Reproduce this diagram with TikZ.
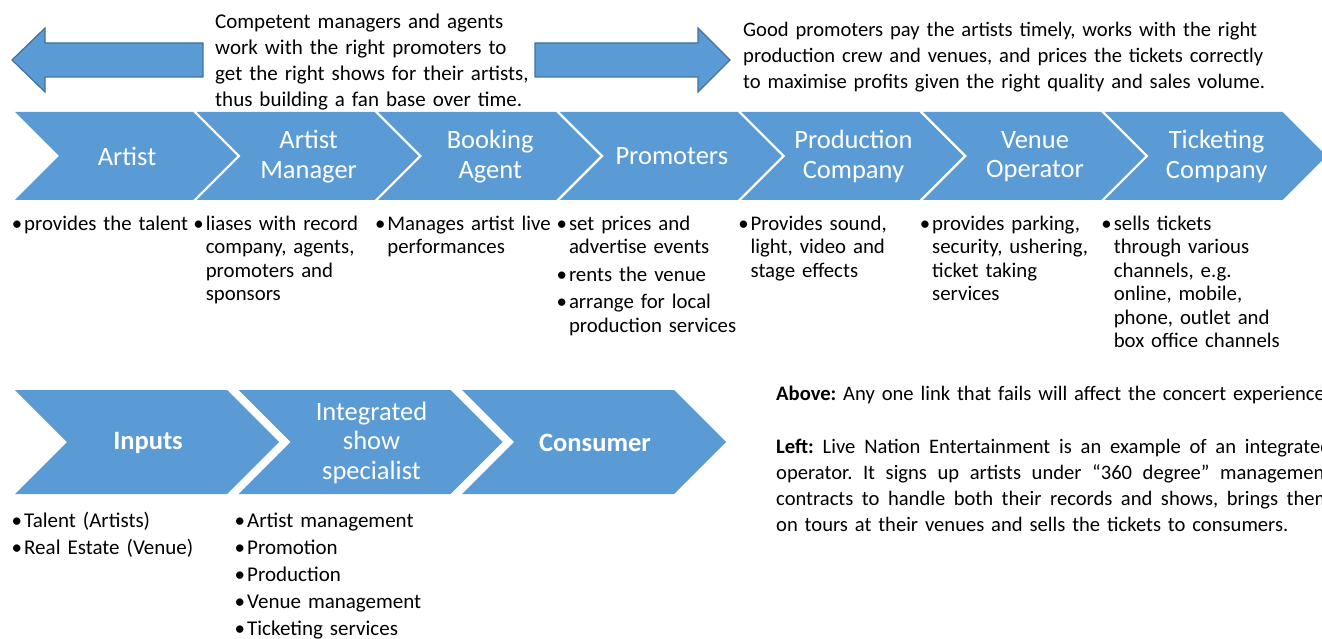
\documentclass[tikz,border=0pt]{standalone}
\usepackage{fontspec}
\setmainfont{Carlito}
\usepackage{tikz}
\definecolor{chevc}{HTML}{5B9BD5}
\definecolor{linec}{HTML}{41719C}
\newcommand\notefont{\fontsize{20.8}{23.5}\selectfont}
\newcommand\listfont{\fontsize{21}{27.2}\selectfont}
\newcommand\headfont{\fontsize{21}{26}\selectfont}
\newcommand\capfont{\fontsize{20.6}{26}\selectfont}
\newcommand\labfont{\fontsize{26.5}{29.5}\selectfont}
\newcommand\bul{\leavevmode\llap{•\kern2pt}}
\newcommand\jline[1]{\leavevmode\hbox to 555pt{\spaceskip=.226em plus 1em\relax#1}}
\frenchspacing
\tikzset{
  blk/.style={fill=chevc,draw=linec,line width=1.2pt},
  lab/.style={text=white,align=center,font=\labfont,inner sep=0pt},
  note/.style={anchor=base west,align=left,inner sep=0pt,font=\notefont,text width=190pt},
  para/.style={anchor=base west,align=left,inner sep=0pt,font=\capfont,text width=#1},
  para/.default=570pt
}

\begin{document}
\begin{tikzpicture}[x=1pt,y=-1pt]
\useasboundingbox (0,0) rectangle (1322,639);
% the two double-ended hints above the chain
\draw[blk] (12,60) -- (45,28) -- (45,43) -- (203,43) -- (203,77) -- (45,77) -- (45,92) -- cycle;
\draw[blk] (730,60) -- (698,28) -- (698,43) -- (535,43) -- (535,77) -- (698,77) -- (698,92) -- cycle;
\node[para=330pt,font=\headfont] (mgrnote) at (215,28.5) {Competent managers and agents\\work with the right promoters to\\get the right shows for their artists,\\thus building a fan base over time.};
\node[para] (promnote) at (743,36.5) {Good promoters pay the artists timely, works with the right\\production crew and venues, and prices the tickets correctly\\to maximise profits given the right quality and sales volume.};
% value chain
\foreach \i/\nm/\lab in {0/artist/Artist,1/manager/{Artist\\Manager},2/agent/{Booking\\Agent},3/promoter/Promoters,4/production/{Production\\Company},5/venue/{Venue\\Operator},6/ticketing/{Ticketing\\Company}}{
  \pgfmathsetmacro\xa{15+181.6*\i}
  \fill[chevc] (\xa,112) -- ++(178,0) -- ++(44,44) -- ++(-44,44) -- ++(-178,0) -- ++(44,-44) -- cycle;
  \node[lab] (\nm) at (\xa+112,156.5) {\lab};
}
\node[note] (n-artist) at (24,230) {\bul provides the talent};
\node[note] (n-manager) at (205.6,230) {\bul liases with record\\company, agents,\\promoters and\\sponsors};
\node[note] (n-agent) at (387.2,230) {\bul Manages artist live\\performances};
\node[note] (n-promoter) at (568.8,230) {\bul set prices and\\advertise events\\[4pt]\bul rents the venue\\[4pt]\bul arrange for local\\production services};
\node[note] (n-production) at (750.4,230) {\bul Provides sound,\\light, video and\\stage effects};
\node[note] (n-venue) at (932,230) {\bul provides parking,\\security, ushering,\\ticket taking\\services};
\node[note] (n-ticketing) at (1113.6,230) {\bul sells tickets\\through various\\channels, e.g.\\online, mobile,\\phone, outlet and\\box office channels};
% integrated operator
\foreach \i/\nm/\lab in {0/inputs/\textbf{Inputs},1/integrated/{Integrated\\show\\specialist},2/consumer/\textbf{Consumer}}{
  \pgfmathsetmacro\xa{15+223.5*\i}
  \fill[chevc] (\xa,390) -- ++(212,0) -- ++(52,52) -- ++(-52,52) -- ++(-212,0) -- ++(52,-52) -- cycle;
  \node[lab] (\nm) at (\xa+133,442.5) {\lab};
}
\node[note,font=\listfont] (l-inputs) at (24,527) {\bul Talent (Artists)\\\bul Real Estate (Venue)};
\node[note,font=\listfont] (l-integrated) at (247,527) {\bul Artist management\\\bul Promotion\\\bul Production\\\bul Venue management\\\bul Ticketing services};
\node[para] (capabove) at (776,400.5) {\textbf{Above:} Any one link that fails will affect the concert experience};
\node[para] (capleft) at (776,453) {\jline{\textbf{Left:} Live Nation Entertainment is an example of an integrated}\\
  \jline{operator. It signs up artists under “360 degree” management}\\
  \jline{contracts to handle both their records and shows, brings them}\\
  on tours at their venues and sells the tickets to consumers.};
\end{tikzpicture}
\end{document}
